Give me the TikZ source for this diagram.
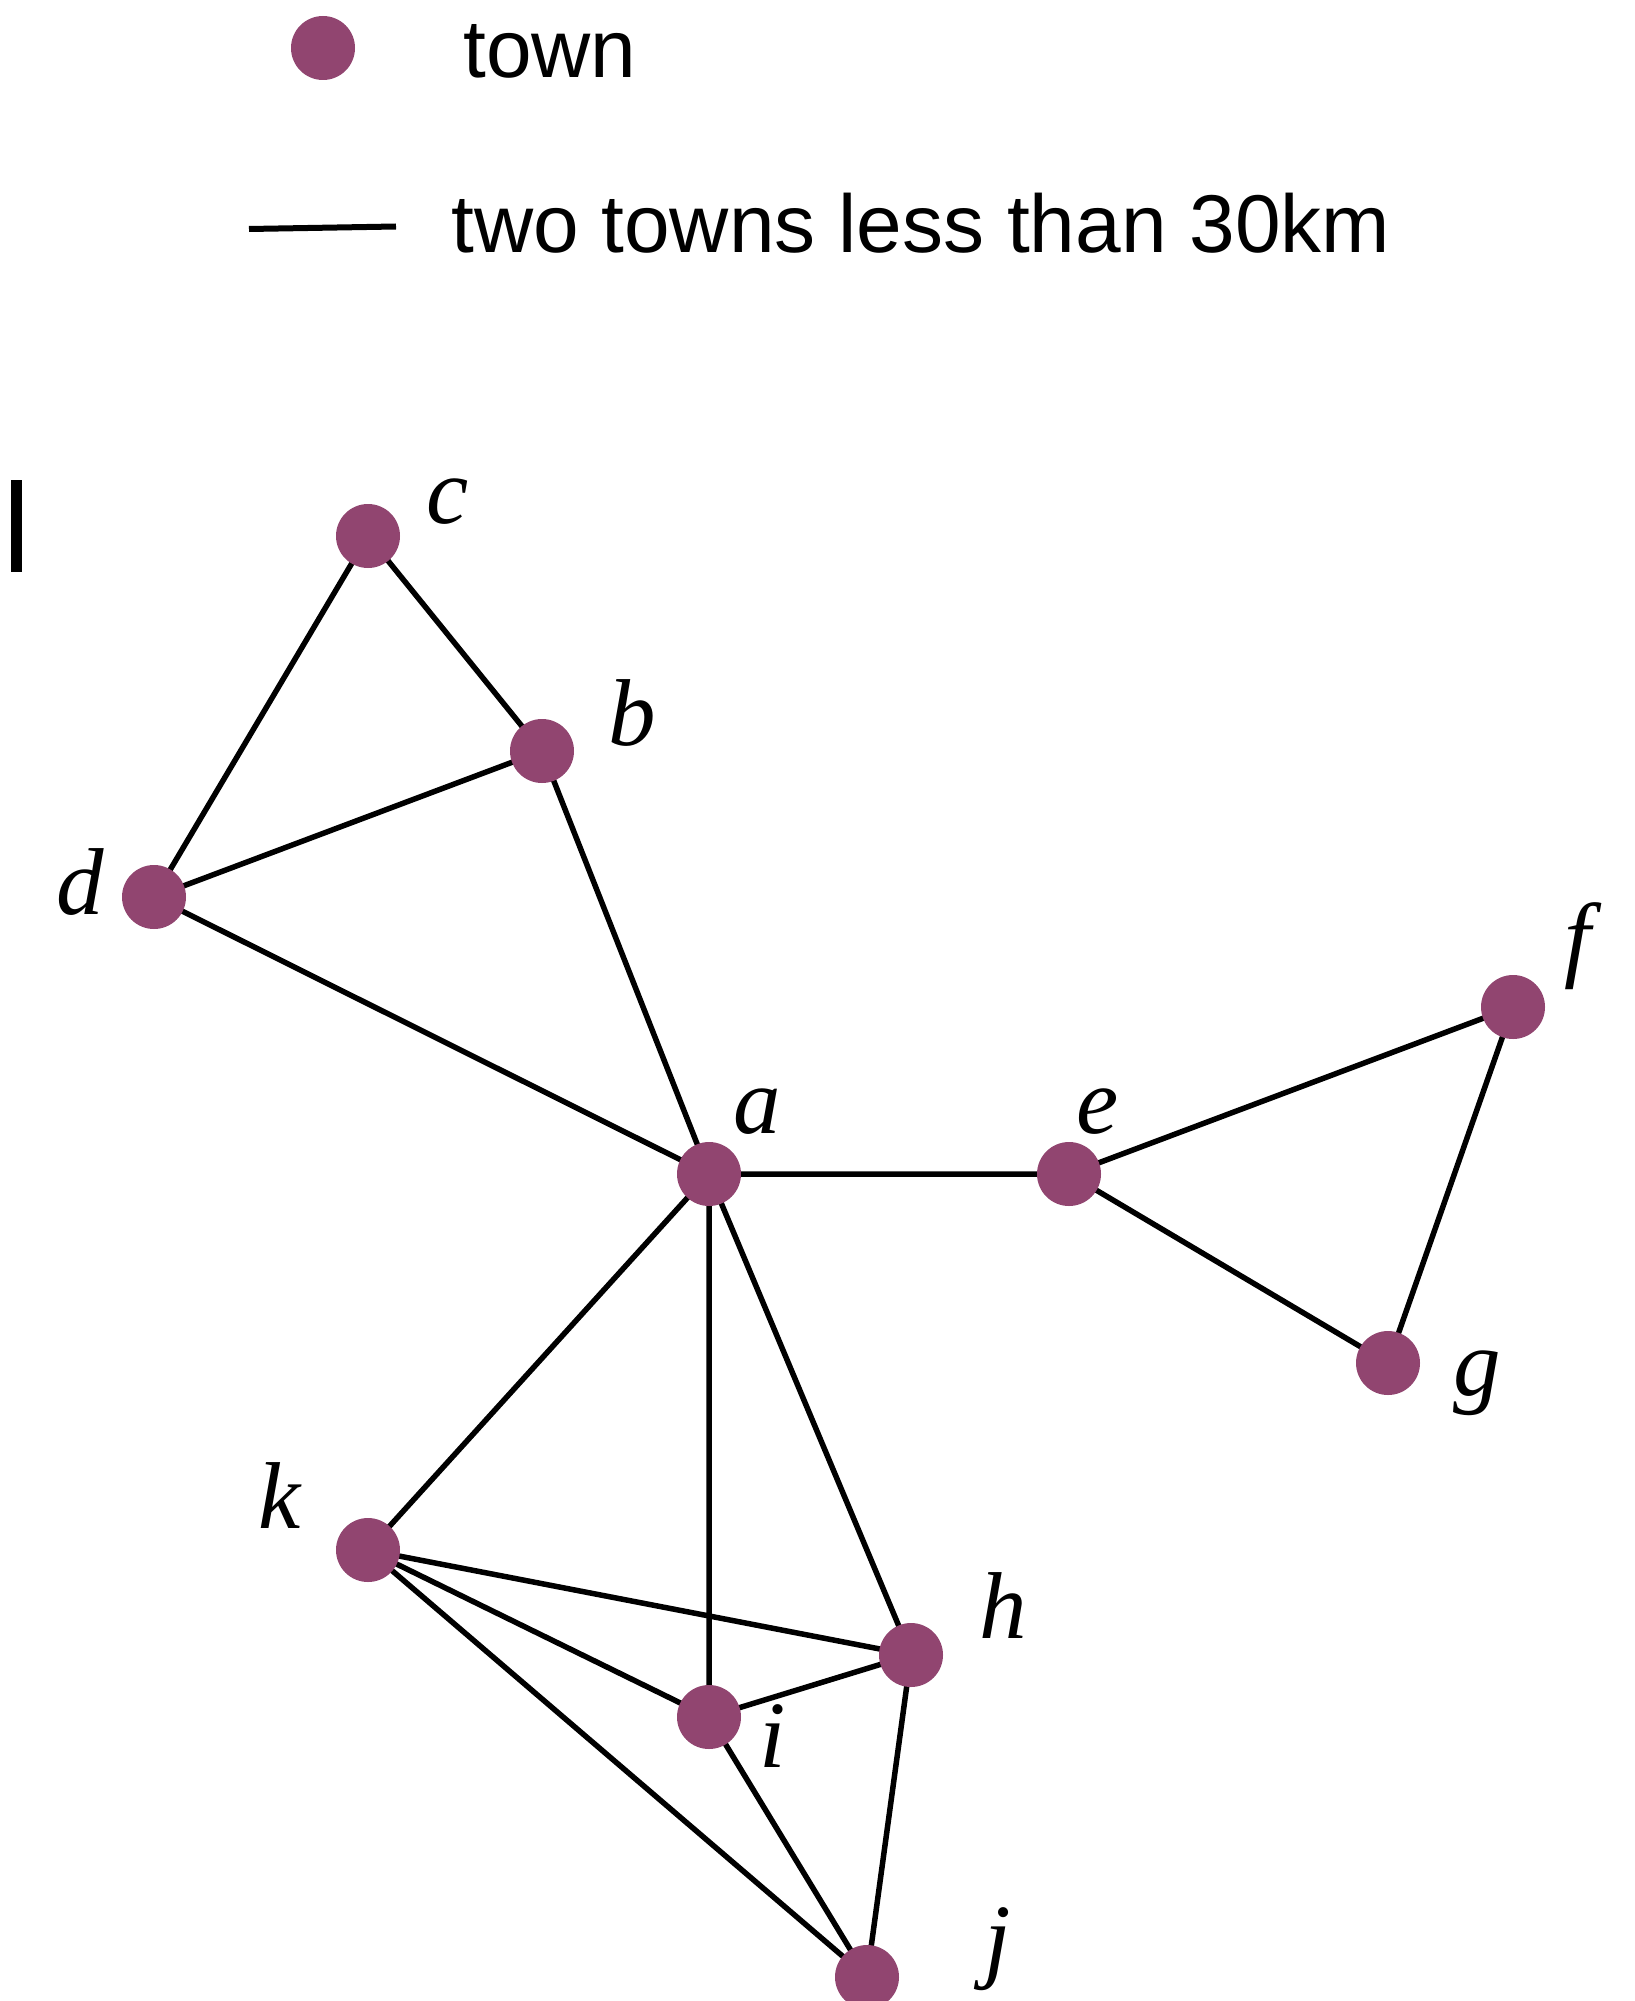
\documentclass[tikz,border=0pt]{standalone}
\usepackage{fontspec}
\setmainfont{Liberation Serif}
\newfontfamily\legendfont{Liberation Sans}
\definecolor{townc}{RGB}{145,69,112}
\tikzset{
  town/.style={circle, fill=townc, inner sep=0pt, minimum size=64pt},
  lbl/.style={anchor=base, inner sep=0pt, font=\fontsize{95}{100}\selectfont\itshape},
  legtxt/.style={anchor=base west, inner sep=0pt, font=\legendfont\fontsize{82}{90}\selectfont},
  edge/.style={line width=5.5pt, black},
}
\begin{document}
\begin{tikzpicture}[x=1pt, y=-1pt]
\useasboundingbox (0,0) rectangle (1634,2001);
% legend
\node[town] (legdot) at (323,48) {};
\node[legtxt] (legtown) at (463,78) {town};
\coordinate (legl) at (249,229);
\coordinate (legr) at (396,226.5);
\draw[line width=6pt] (legl) -- (legr);
\node[legtxt] (legedge) at (451,253) {two towns less than 30km};
\fill (11,480) rectangle (22,572);
% edges first
\coordinate (pa) at (709,1174);
\coordinate (pb) at (542,751);
\coordinate (pc) at (368,536);
\coordinate (pd) at (154,897);
\coordinate (pe) at (1069,1174);
\coordinate (pf) at (1513,1007);
\coordinate (pg) at (1388,1363);
\coordinate (ph) at (911,1655);
\coordinate (pi) at (709,1717);
\coordinate (pj) at (867,1977);
\coordinate (pk) at (368,1550);
\draw[edge] (pc) -- (pb) (pc) -- (pd) (pb) -- (pd) (pd) -- (pa) (pb) -- (pa)
  (pa) -- (pe) (pe) -- (pf) (pe) -- (pg) (pf) -- (pg)
  (pa) -- (pk) (pa) -- (pi) (pa) -- (ph)
  (pk) -- (ph) (pk) -- (pi) (pk) -- (pj)
  (pi) -- (ph) (pi) -- (pj) (ph) -- (pj);
% towns
\foreach \n in {a,b,c,d,e,f,g,h,i,j,k} {\node[town] (\n) at (p\n) {};}
% labels
\node[lbl] (la) at (757,1133) {a};
\node[lbl] (lb) at (632,745) {b};
\node[lbl] (lc) at (448,523) {c};
\node[lbl] (ld) at (80,914) {d};
\node[lbl] (le) at (1098,1133) {e};
\node[lbl] (lf) at (1578,969) {f};
\node[lbl] (lg) at (1477,1395) {g};
\node[lbl] (lh) at (1003,1638) {h};
\node[lbl] (li) at (773,1767) {i};
\node[lbl] (lj) at (998,1970) {j};
\node[lbl] (lk) at (280,1528) {k};
\end{tikzpicture}
\end{document}
